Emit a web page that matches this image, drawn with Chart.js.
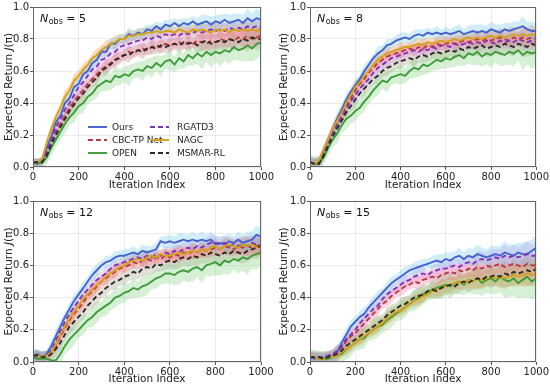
<!DOCTYPE html>
<html><head><meta charset="utf-8">
<script src="https://cdn.jsdelivr.net/npm/chart.js@4"></script>
<style>
html,body{margin:0;padding:0;background:#fff;}
#wrap{position:relative;width:550px;height:388px;}
canvas{position:absolute;}
</style></head>
<body><div id="wrap">
<canvas id="c1" width="275" height="194" style="left:0;top:0"></canvas>
<canvas id="c2" width="275" height="194" style="left:275px;top:0"></canvas>
<canvas id="c3" width="275" height="194" style="left:0;top:194px"></canvas>
<canvas id="c4" width="275" height="194" style="left:275px;top:194px"></canvas>
</div>
<script>
const iterations = [0,20,40,60,80,100,120,140,160,180,200,220,240,260,280,300,320,340,360,380,400,420,440,460,480,500,520,540,560,580,600,620,640,660,680,700,720,740,760,780,800,820,840,860,880,900,920,940,960,980,1000];
const methods = ["Ours","CBC-TP Net","OPEN","RGATD3","NAGC","MSMAR-RL"];
const obsCounts = [5,8,12,15];
const xTicks = [0,200,400,600,800,1000];
const yTicks = [0.0,0.2,0.4,0.6,0.8,1.0];

// ---- N_obs = 5 ----
const ours5 = [0.03,0.02,0.04,0.12,0.19,0.28,0.32,0.40,0.43,0.50, 0.52,0.58,0.60,0.65,0.67,0.72,0.72,0.77,0.77,0.80, 0.80,0.83,0.82,0.84,0.83,0.86,0.85,0.88,0.86,0.89, 0.88,0.90,0.88,0.90,0.89,0.91,0.89,0.90,0.91,0.89, 0.91,0.90,0.92,0.90,0.91,0.92,0.90,0.93,0.91,0.93,0.92];
const cbc5 = [0.03,0.03,0.03,0.09,0.15,0.22,0.27,0.32,0.37,0.41, 0.45,0.48,0.52,0.55,0.58,0.61,0.63,0.65,0.67,0.69, 0.70,0.72,0.71,0.73,0.74,0.73,0.75,0.76,0.75,0.77, 0.76,0.77,0.78,0.76,0.78,0.77,0.79,0.78,0.77,0.79, 0.78,0.80,0.79,0.80,0.79,0.81,0.80,0.82,0.80,0.81,0.82];
const open5 = [0.03,0.02,0.03,0.06,0.12,0.17,0.22,0.27,0.31,0.34, 0.38,0.40,0.44,0.46,0.50,0.52,0.54,0.53,0.57,0.56, 0.58,0.57,0.60,0.61,0.60,0.63,0.62,0.65,0.63,0.66, 0.67,0.64,0.68,0.66,0.70,0.68,0.71,0.69,0.72,0.70, 0.72,0.71,0.73,0.72,0.75,0.73,0.74,0.76,0.74,0.77,0.78];
const rgatd5 = [0.03,0.03,0.03,0.10,0.17,0.25,0.30,0.36,0.40,0.45, 0.50,0.53,0.57,0.61,0.63,0.67,0.68,0.71,0.72,0.75, 0.76,0.77,0.78,0.79,0.79,0.81,0.80,0.82,0.81,0.83, 0.82,0.83,0.82,0.84,0.83,0.84,0.85,0.84,0.85,0.86, 0.85,0.86,0.85,0.87,0.86,0.87,0.86,0.88,0.87,0.88,0.87];
const nagc5 = [0.03,0.03,0.05,0.15,0.24,0.31,0.37,0.44,0.48,0.54, 0.57,0.61,0.64,0.68,0.70,0.73,0.75,0.77,0.78,0.80, 0.80,0.82,0.82,0.83,0.83,0.84,0.84,0.85,0.84,0.85, 0.85,0.84,0.86,0.85,0.84,0.86,0.85,0.86,0.85,0.84, 0.86,0.85,0.86,0.84,0.86,0.85,0.86,0.85,0.86,0.85,0.86];
const msmar5 = [0.03,0.03,0.03,0.07,0.14,0.20,0.25,0.30,0.35,0.39, 0.43,0.46,0.50,0.53,0.56,0.60,0.62,0.64,0.67,0.68, 0.70,0.70,0.72,0.73,0.72,0.74,0.75,0.74,0.76,0.75, 0.76,0.77,0.76,0.78,0.77,0.78,0.76,0.78,0.79,0.77, 0.78,0.79,0.78,0.80,0.79,0.78,0.80,0.79,0.81,0.80,0.80];
const spread5 = [0.02,0.02,0.02,0.03,0.03,0.03,0.03,0.04,0.03,0.04, 0.03,0.04,0.03,0.03,0.04,0.03,0.04,0.03,0.04,0.03, 0.03,0.04,0.03,0.03,0.04,0.03,0.04,0.03,0.04,0.03, 0.04,0.03,0.04,0.03,0.04,0.03,0.04,0.05,0.04,0.05, 0.04,0.05,0.04,0.05,0.05,0.04,0.05,0.06,0.05,0.06,0.05];

// ---- N_obs = 8 ----
const ours8 = [0.03,0.02,0.03,0.10,0.17,0.24,0.30,0.36,0.42,0.47, 0.51,0.55,0.60,0.64,0.68,0.71,0.73,0.76,0.77,0.79, 0.80,0.81,0.80,0.82,0.83,0.82,0.84,0.83,0.84,0.83, 0.84,0.83,0.84,0.85,0.83,0.84,0.85,0.84,0.85,0.84, 0.86,0.85,0.84,0.86,0.85,0.86,0.87,0.88,0.86,0.85,0.85];
const cbc8 = [0.03,0.02,0.03,0.10,0.16,0.23,0.28,0.33,0.38,0.43, 0.48,0.52,0.55,0.59,0.62,0.65,0.67,0.69,0.70,0.71, 0.72,0.73,0.74,0.73,0.75,0.74,0.76,0.75,0.77,0.76, 0.77,0.78,0.77,0.78,0.79,0.78,0.79,0.80,0.79,0.80, 0.79,0.80,0.81,0.80,0.79,0.81,0.80,0.81,0.80,0.81,0.80];
const open8 = [0.03,0.02,0.02,0.06,0.12,0.17,0.21,0.26,0.30,0.32, 0.35,0.37,0.41,0.44,0.48,0.51,0.54,0.53,0.56,0.57, 0.58,0.57,0.60,0.62,0.61,0.64,0.63,0.65,0.67,0.66, 0.68,0.67,0.69,0.70,0.68,0.71,0.70,0.72,0.69,0.71, 0.70,0.72,0.71,0.70,0.72,0.71,0.73,0.70,0.72,0.71,0.72];
const rgatd8 = [0.03,0.02,0.02,0.08,0.15,0.21,0.26,0.31,0.36,0.41, 0.45,0.49,0.52,0.55,0.59,0.62,0.64,0.66,0.68,0.69, 0.70,0.71,0.72,0.73,0.72,0.74,0.73,0.75,0.74,0.76, 0.76,0.75,0.77,0.76,0.77,0.78,0.77,0.78,0.77,0.79, 0.78,0.77,0.79,0.78,0.79,0.78,0.80,0.79,0.78,0.79,0.78];
const nagc8 = [0.03,0.02,0.04,0.11,0.17,0.24,0.29,0.34,0.40,0.45, 0.50,0.53,0.57,0.60,0.64,0.67,0.69,0.71,0.72,0.73, 0.74,0.75,0.75,0.76,0.77,0.76,0.78,0.77,0.78,0.79, 0.78,0.79,0.80,0.79,0.80,0.81,0.80,0.81,0.80,0.81, 0.82,0.81,0.82,0.81,0.82,0.83,0.82,0.83,0.82,0.83,0.82];
const msmar8 = [0.03,0.02,0.02,0.07,0.13,0.19,0.24,0.29,0.34,0.38, 0.42,0.46,0.49,0.52,0.55,0.57,0.60,0.62,0.63,0.65, 0.66,0.67,0.68,0.67,0.69,0.70,0.69,0.71,0.72,0.71, 0.72,0.73,0.72,0.74,0.73,0.75,0.74,0.75,0.76,0.74, 0.75,0.76,0.75,0.77,0.76,0.75,0.77,0.76,0.75,0.77,0.76];
const spread8 = [0.03,0.03,0.03,0.03,0.03,0.03,0.04,0.03,0.04,0.03, 0.04,0.03,0.04,0.03,0.03,0.04,0.03,0.04,0.03,0.03, 0.04,0.03,0.03,0.04,0.03,0.04,0.03,0.03,0.04,0.03, 0.04,0.03,0.04,0.04,0.03,0.04,0.04,0.05,0.04,0.04, 0.05,0.04,0.05,0.04,0.05,0.05,0.04,0.06,0.05,0.06,0.05];

// ---- N_obs = 12 ----
const ours12 = [0.04,0.05,0.03,0.05,0.10,0.16,0.22,0.28,0.33,0.38, 0.42,0.46,0.50,0.54,0.57,0.60,0.62,0.63,0.65,0.66, 0.66,0.67,0.68,0.67,0.69,0.68,0.69,0.70,0.75,0.74, 0.75,0.74,0.75,0.76,0.75,0.76,0.75,0.76,0.75,0.76, 0.73,0.74,0.73,0.75,0.74,0.76,0.74,0.75,0.76,0.79,0.78];
const cbc12 = [0.04,0.04,0.03,0.04,0.06,0.10,0.16,0.21,0.26,0.30, 0.33,0.37,0.41,0.44,0.47,0.50,0.52,0.54,0.56,0.58, 0.59,0.60,0.62,0.61,0.63,0.64,0.63,0.65,0.64,0.66, 0.65,0.67,0.66,0.68,0.67,0.69,0.68,0.70,0.69,0.70, 0.71,0.70,0.72,0.71,0.70,0.72,0.71,0.72,0.71,0.72,0.73];
const open12 = [0.03,0.02,0.02,0.02,0.01,0.01,0.05,0.10,0.14,0.17, 0.20,0.23,0.26,0.28,0.31,0.33,0.35,0.37,0.40,0.41, 0.43,0.44,0.46,0.45,0.47,0.48,0.50,0.52,0.53,0.55, 0.55,0.54,0.56,0.57,0.56,0.58,0.59,0.57,0.60,0.61, 0.62,0.60,0.63,0.62,0.64,0.63,0.65,0.64,0.66,0.67,0.68];
const rgatd12 = [0.04,0.04,0.03,0.04,0.07,0.13,0.19,0.25,0.30,0.34, 0.38,0.42,0.45,0.48,0.51,0.53,0.55,0.58,0.60,0.61, 0.62,0.63,0.64,0.65,0.64,0.66,0.65,0.67,0.66,0.68, 0.67,0.69,0.68,0.70,0.71,0.70,0.72,0.71,0.73,0.74, 0.74,0.73,0.74,0.72,0.73,0.72,0.73,0.72,0.74,0.73,0.72];
const nagc12 = [0.04,0.04,0.03,0.04,0.06,0.11,0.17,0.22,0.27,0.31, 0.35,0.39,0.42,0.45,0.48,0.50,0.53,0.55,0.57,0.59, 0.60,0.62,0.63,0.64,0.63,0.65,0.66,0.65,0.67,0.66, 0.66,0.67,0.68,0.67,0.68,0.69,0.68,0.70,0.69,0.71, 0.72,0.70,0.72,0.73,0.72,0.71,0.73,0.72,0.73,0.71,0.72];
const msmar12 = [0.04,0.04,0.03,0.03,0.05,0.08,0.12,0.17,0.22,0.25, 0.28,0.31,0.35,0.38,0.41,0.43,0.46,0.48,0.50,0.51, 0.53,0.54,0.56,0.55,0.58,0.59,0.58,0.61,0.60,0.62, 0.63,0.62,0.64,0.65,0.64,0.66,0.65,0.67,0.66,0.68, 0.67,0.66,0.68,0.67,0.69,0.68,0.67,0.69,0.70,0.71,0.72];
const spread12 = [0.03,0.03,0.03,0.03,0.03,0.04,0.04,0.03,0.04,0.04, 0.03,0.04,0.03,0.04,0.04,0.03,0.04,0.03,0.04,0.03, 0.04,0.03,0.04,0.03,0.04,0.04,0.03,0.04,0.03,0.04, 0.04,0.04,0.05,0.04,0.04,0.05,0.04,0.05,0.04,0.05, 0.05,0.04,0.05,0.05,0.04,0.05,0.05,0.06,0.05,0.06,0.05];

// ---- N_obs = 15 ----
const ours15 = [0.03,0.02,0.03,0.02,0.04,0.03,0.06,0.12,0.17,0.22, 0.25,0.28,0.30,0.34,0.37,0.40,0.43,0.46,0.49,0.51, 0.53,0.55,0.57,0.58,0.59,0.60,0.61,0.62,0.63,0.62, 0.64,0.63,0.65,0.66,0.64,0.66,0.65,0.67,0.66,0.65, 0.66,0.67,0.66,0.68,0.67,0.66,0.68,0.67,0.67,0.69,0.71];
const cbc15 = [0.03,0.03,0.02,0.03,0.03,0.04,0.06,0.09,0.13,0.16, 0.18,0.21,0.24,0.27,0.30,0.33,0.36,0.38,0.41,0.43, 0.45,0.47,0.48,0.50,0.49,0.51,0.52,0.53,0.52,0.54, 0.55,0.56,0.55,0.57,0.56,0.58,0.57,0.59,0.58,0.60, 0.59,0.60,0.61,0.59,0.60,0.61,0.60,0.59,0.61,0.60,0.60];
const open15 = [0.03,0.03,0.02,0.02,0.02,0.03,0.04,0.05,0.08,0.10, 0.12,0.14,0.15,0.18,0.20,0.22,0.23,0.26,0.28,0.30, 0.32,0.34,0.36,0.38,0.40,0.42,0.43,0.45,0.46,0.47, 0.48,0.47,0.49,0.50,0.48,0.51,0.50,0.52,0.49,0.51, 0.52,0.50,0.53,0.51,0.50,0.52,0.49,0.51,0.53,0.50,0.52];
const rgatd15 = [0.03,0.03,0.03,0.03,0.04,0.05,0.07,0.10,0.14,0.17, 0.20,0.24,0.27,0.30,0.33,0.35,0.39,0.42,0.44,0.46, 0.48,0.50,0.51,0.53,0.54,0.55,0.54,0.56,0.57,0.58, 0.58,0.59,0.60,0.59,0.61,0.62,0.61,0.63,0.64,0.63, 0.64,0.65,0.64,0.66,0.65,0.66,0.65,0.66,0.67,0.66,0.66];
const nagc15 = [0.03,0.03,0.02,0.02,0.03,0.03,0.04,0.06,0.08,0.10, 0.12,0.14,0.16,0.18,0.20,0.22,0.24,0.27,0.29,0.31, 0.32,0.34,0.36,0.38,0.39,0.41,0.42,0.44,0.45,0.46, 0.47,0.48,0.49,0.50,0.49,0.51,0.50,0.52,0.51,0.52, 0.53,0.52,0.53,0.52,0.53,0.54,0.53,0.54,0.55,0.54,0.55];
const msmar15 = [0.03,0.03,0.03,0.02,0.03,0.04,0.05,0.07,0.10,0.12, 0.14,0.16,0.18,0.20,0.22,0.24,0.26,0.29,0.31,0.33, 0.35,0.36,0.38,0.40,0.41,0.42,0.44,0.45,0.44,0.46, 0.47,0.48,0.47,0.49,0.50,0.49,0.51,0.52,0.51,0.53, 0.53,0.54,0.53,0.55,0.54,0.56,0.55,0.56,0.57,0.56,0.58];
const spread15 = [0.03,0.03,0.03,0.03,0.03,0.03,0.04,0.03,0.04,0.04, 0.03,0.04,0.04,0.03,0.04,0.04,0.03,0.04,0.04,0.03, 0.04,0.04,0.03,0.04,0.04,0.04,0.03,0.04,0.04,0.05, 0.04,0.05,0.04,0.05,0.04,0.05,0.05,0.06,0.05,0.05, 0.06,0.05,0.06,0.07,0.06,0.07,0.06,0.07,0.08,0.07,0.08];

// relative band width per method (OPEN is noisiest)
const spreadScale = [1.0, 1.0, 1.6, 1.0, 1.0, 1.2];

const panelSeries = [
  [ours5, cbc5, open5, rgatd5, nagc5, msmar5],
  [ours8, cbc8, open8, rgatd8, nagc8, msmar8],
  [ours12, cbc12, open12, rgatd12, nagc12, msmar12],
  [ours15, cbc15, open15, rgatd15, nagc15, msmar15]
];
const panelSpread = [spread5, spread8, spread12, spread15];

const lineColors = ['#4762cf','#b83a3f','#3f9b3a','#7936b6','#d3a319','#2b2b2b'];
const bandColors = ['rgba(110,200,235,0.32)','rgba(245,110,150,0.30)','rgba(120,205,120,0.30)','rgba(205,140,225,0.30)','rgba(248,150,60,0.35)','rgba(150,140,110,0.28)'];
const dashes = [[], [5,3], [], [5,3], [], [5,3]];

const layouts = [
  {L:33,R:262,T:6,B:167},
  {L:35,R:262,T:6,B:167},
  {L:33,R:261,T:7,B:168},
  {L:35,R:262,T:7,B:168}
];

const FONT = "'DejaVu Sans', sans-serif";

function makePanel(idx){
  const series = panelSeries[idx], sd = panelSpread[idx], lay = layouts[idx];
  const datasets = [];
  series.forEach((vals, k) => {
    datasets.push({label:'_up', data: vals.map((v,i)=>({x:iterations[i], y:v + sd[i]*spreadScale[k]})),
      borderWidth:0, pointRadius:0, fill:false, order:20+k, borderColor:'rgba(0,0,0,0)'});
    datasets.push({label:'_lo', data: vals.map((v,i)=>({x:iterations[i], y:v - sd[i]*spreadScale[k]})),
      borderWidth:0, pointRadius:0, fill:'-1', backgroundColor:bandColors[k], order:20+k, borderColor:'rgba(0,0,0,0)'});
  });
  series.forEach((vals, k) => {
    datasets.push({label: methods[k], data: vals.map((v,i)=>({x:iterations[i], y:v})),
      borderColor: lineColors[k], borderWidth:1.9, borderDash:dashes[k], pointRadius:0, fill:false,
      order: 1 + (5-k), tension:0, isMain:true, mIdx:k});
  });

  const deco = {
    id:'deco',
    afterDraw(chart){
      const ctx = chart.ctx, a = chart.chartArea;
      ctx.save();
      ctx.strokeStyle = '#666'; ctx.lineWidth = 1;
      ctx.strokeRect(Math.round(a.left)+0.5, Math.round(a.top)+0.5, Math.round(a.right-a.left)-1, Math.round(a.bottom-a.top)-1);
      // panel title N_obs = n
      ctx.fillStyle = '#111'; ctx.textBaseline = 'alphabetic'; ctx.textAlign = 'left';
      let x = a.left + 7, y = a.top + 15;
      ctx.font = 'italic 11px ' + FONT; ctx.fillText('N', x, y); x += ctx.measureText('N').width + 0.5;
      ctx.font = '8px ' + FONT; ctx.fillText('obs', x, y + 2); x += ctx.measureText('obs').width;
      ctx.font = '11px ' + FONT; ctx.fillText(' = ' + obsCounts[idx], x, y);
      // y axis label with italic J
      ctx.translate(9, (a.top + a.bottom)/2);
      ctx.rotate(-Math.PI/2);
      ctx.textBaseline = 'middle';
      const p1 = 'Expected Return ', p2 = 'J', p3 = '(\u03c0)';
      ctx.font = '10.5px ' + FONT; const w1 = ctx.measureText(p1).width, w3 = ctx.measureText(p3).width;
      ctx.font = 'italic 10.5px ' + FONT; const w2 = ctx.measureText(p2).width;
      let sx = -(w1+w2+w3)/2;
      ctx.fillStyle = '#222';
      ctx.font = '10.5px ' + FONT; ctx.fillText(p1, sx, 0); sx += w1;
      ctx.font = 'italic 10.5px ' + FONT; ctx.fillText(p2, sx, 0); sx += w2;
      ctx.font = '10.5px ' + FONT; ctx.fillText(p3, sx, 0);
      ctx.restore();
      if (idx === 0) {
        ctx.save();
        const mains = chart.data.datasets.filter(d => d.isMain);
        const cols = [{lx:88, tx:112}, {lx:150, tx:177}];
        const rows = [127, 140, 153];
        ctx.font = '9px ' + FONT; ctx.textBaseline = 'middle'; ctx.textAlign = 'left';
        mains.forEach((d, j) => {
          const c = cols[Math.floor(j/3)], ry = rows[j%3];
          ctx.strokeStyle = d.borderColor; ctx.lineWidth = 1.9; ctx.setLineDash(d.borderDash);
          ctx.beginPath(); ctx.moveTo(c.lx, ry); ctx.lineTo(c.lx + 19, ry); ctx.stroke();
          ctx.setLineDash([]);
          ctx.fillStyle = '#222'; ctx.fillText(d.label, c.tx, ry + 0.5);
        });
        ctx.restore();
      }
    }
  };

  return new Chart(document.getElementById('c' + (idx+1)), {
    type:'line',
    data:{datasets},
    options:{
      responsive:false, animation:false, devicePixelRatio:1,
      layout:{padding:{left:0, top:lay.T, right:275-lay.R, bottom:0}},
      plugins:{legend:{display:false}, tooltip:{enabled:false}, filler:{propagate:false}},
      scales:{
        x:{type:'linear', min:0, max:1000,
          afterFit(s){ s.height = 194 - lay.B; },
          afterBuildTicks(s){ s.ticks = xTicks.map(v=>({value:v})); },
          ticks:{font:{family:FONT, size:10}, color:'#222', padding:1, maxRotation:0, callback:v=>String(v)},
          grid:{color:'rgba(0,0,0,0.08)', tickLength:3, tickColor:'#555'},
          border:{display:false},
          title:{display:true, text:'Iteration Index', font:{family:FONT, size:10.5}, color:'#222', padding:{top:0,bottom:2}}
        },
        y:{type:'linear', min:0, max:1,
          afterFit(s){ s.width = lay.L; },
          afterBuildTicks(s){ s.ticks = yTicks.map(v=>({value:v})); },
          ticks:{font:{family:FONT, size:10}, color:'#222', padding:1, callback:v=>v.toFixed(1)},
          grid:{color:'rgba(0,0,0,0.08)', tickLength:3, tickColor:'#555'},
          border:{display:false}
        }
      }
    },
    plugins:[deco]
  });
}
[0,1,2,3].forEach(makePanel);
</script>
</body></html>
